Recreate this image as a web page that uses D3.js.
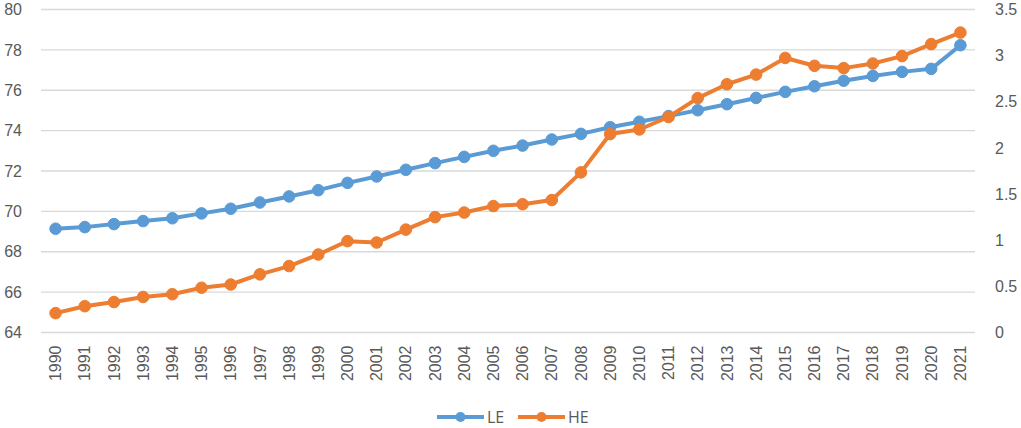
<!DOCTYPE html>
<html>
<head>
<meta charset="utf-8">
<script src="https://cdn.jsdelivr.net/npm/d3@7"></script>
<style>
html,body{margin:0;padding:0;background:#fff;}
svg{display:block;font-family:"Open Sans","Noto Sans",sans-serif;}
</style>
</head>
<body>
<svg id="chart" width="1021" height="428"></svg>
<script>
const years = ["1990","1991","1992","1993","1994","1995","1996","1997","1998","1999","2000","2001","2002","2003","2004","2005","2006","2007","2008","2009","2010","2011","2012","2013","2014","2015","2016","2017","2018","2019","2020","2021"];
const LE = [69.14,69.22,69.37,69.52,69.66,69.90,70.13,70.44,70.74,71.05,71.41,71.73,72.06,72.39,72.70,73.00,73.26,73.56,73.84,74.17,74.44,74.72,75.01,75.31,75.62,75.92,76.20,76.47,76.71,76.91,77.06,78.23];
const HE = [0.21,0.285,0.33,0.385,0.415,0.485,0.52,0.63,0.72,0.845,0.99,0.975,1.115,1.25,1.30,1.37,1.39,1.435,1.735,2.15,2.20,2.335,2.54,2.69,2.795,2.975,2.89,2.865,2.915,2.995,3.125,3.25];
const leftTicks = [64,66,68,70,72,74,76,78,80];
const rightTicks = [0,0.5,1,1.5,2,2.5,3,3.5];
const seriesNames = ["LE","HE"];
const colors = ["#5B9BD5","#ED7D31"];

const svg = d3.select("#chart");
const L = 41, R = 975, T = 9.5, B = 332.5;
const x = d3.scaleBand().domain(years).range([L, R]);
const yL = d3.scaleLinear().domain([64, 80]).range([B, T]);
const yR = d3.scaleLinear().domain([0, 3.5]).range([B, T]);
const cx = d => x(d) + x.bandwidth() / 2;

// gridlines
svg.append("g").selectAll("line").data(leftTicks).join("line")
  .attr("x1", L).attr("x2", R)
  .attr("y1", d => yL(d)).attr("y2", d => yL(d))
  .attr("stroke", "#D9D9D9").attr("stroke-width", 1.3);

const txt = "#595959";
// left axis
const gl = svg.append("g").attr("transform", `translate(${L},0)`)
  .call(d3.axisLeft(yL).tickValues(leftTicks).tickSize(0).tickPadding(19).tickFormat(d3.format("d")));
gl.select(".domain").remove();
gl.selectAll("text").attr("fill", txt).style("font-size", "16px").attr("font-family", null);

// right axis
const gr = svg.append("g").attr("transform", `translate(${R},0)`)
  .call(d3.axisRight(yR).tickValues(rightTicks).tickSize(0).tickPadding(20).tickFormat(d => String(d)));
gr.select(".domain").remove();
gr.selectAll("text").attr("fill", txt).style("font-size", "16px").attr("font-family", null);

// bottom axis
const gb = svg.append("g").attr("transform", `translate(0,${B})`)
  .call(d3.axisBottom(x).tickSize(0).tickPadding(0));
gb.select(".domain").remove();
gb.selectAll("text")
  .attr("fill", txt).style("font-size", "16px").attr("font-family", null)
  .attr("text-anchor", "end")
  .attr("transform", "translate(0,13) rotate(-90)")
  .attr("x", 0).attr("y", 0).attr("dy", "0.35em");

// lines
const data = [LE.map((v,i)=>[years[i], yL(v)]), HE.map((v,i)=>[years[i], yR(v)])];
const line = d3.line().x(d => cx(d[0])).y(d => d[1]);
data.forEach((s, k) => {
  const g = svg.append("g");
  g.append("path").datum(s).attr("d", line)
    .attr("fill", "none").attr("stroke", colors[k]).attr("stroke-width", 4)
    .attr("stroke-linejoin", "round");
  g.selectAll("circle").data(s).join("circle")
    .attr("cx", d => cx(d[0])).attr("cy", d => d[1]).attr("r", 5.8)
    .attr("fill", colors[k]).attr("stroke", colors[k]).attr("stroke-width", 1);
});

// legend
const legX = [437, 518];
const leg = svg.append("g");
seriesNames.forEach((n, k) => {
  const g = leg.append("g").attr("transform", `translate(${legX[k]},417)`);
  g.append("line").attr("x1", 0).attr("x2", 47).attr("y1", 0).attr("y2", 0)
    .attr("stroke", colors[k]).attr("stroke-width", 4);
  g.append("circle").attr("cx", 23.5).attr("cy", 0).attr("r", 5)
    .attr("fill", colors[k]);
  g.append("text").attr("x", 50).attr("y", 0).attr("dy", "0.35em")
    .attr("fill", txt).style("font-size", "16px").text(n);
});
</script>
</body>
</html>
